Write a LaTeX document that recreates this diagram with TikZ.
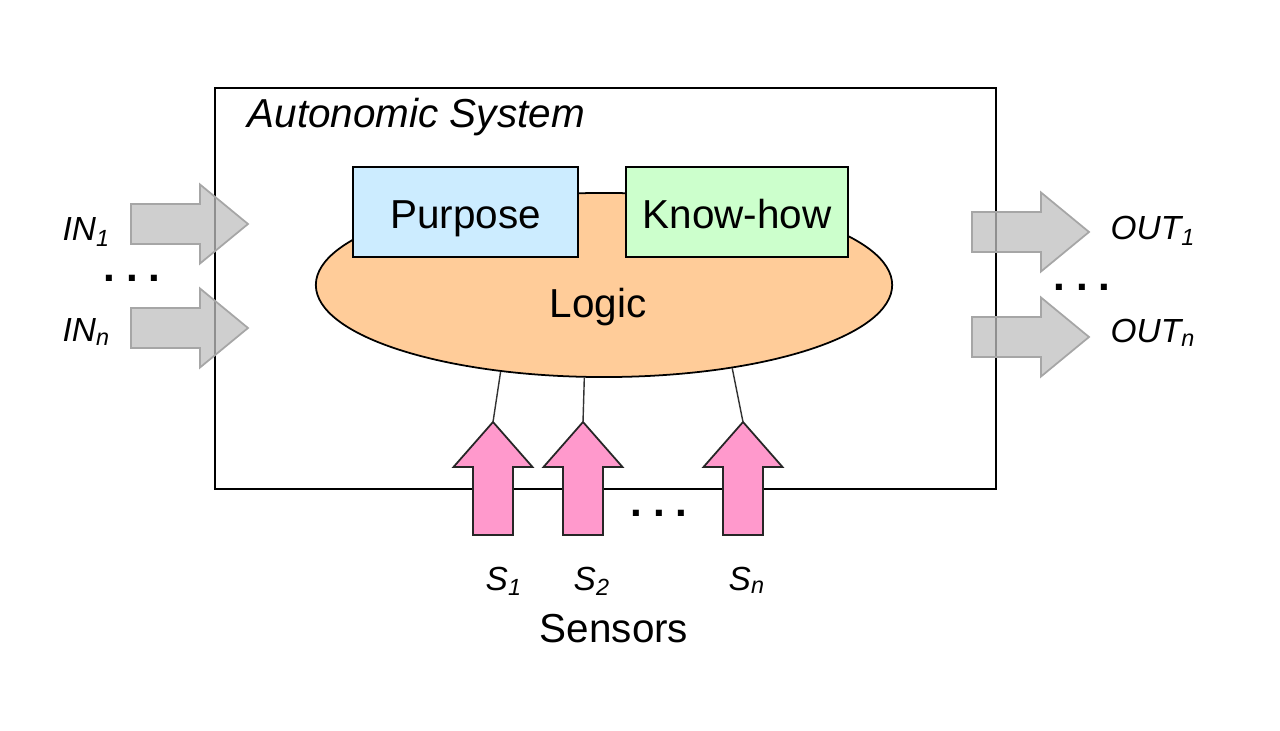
\documentclass[tikz,border=0pt]{standalone}
\usepackage{fontspec}
\setmainfont{Liberation Sans}
\usetikzlibrary{shapes.geometric}

\definecolor{purposeblue}{HTML}{CCECFF}
\definecolor{knowgreen}{HTML}{CCFFCC}
\definecolor{logicorange}{HTML}{FFCC99}
\definecolor{sensorpink}{HTML}{FF99CC}
\definecolor{flowgray}{HTML}{BFBFBF}

\begin{document}
\begin{tikzpicture}[x=0.01cm, y=-0.01cm, line join=miter,
  txt/.style={font=\fontsize{11.5}{14}\selectfont, inner sep=0pt},
  lbl/.style={font=\fontsize{9.5}{11}\selectfont\itshape, inner sep=0pt, anchor=base west},
  box/.style={txt, draw, line width=0.6pt, minimum height=0.9cm, text height=9.6pt, text depth=0pt},
  flow/.style={fill=flowgray, fill opacity=0.75, draw=black!35, line width=0.5pt},
  sensor/.style={fill=sensorpink, draw=black!85, line width=0.5pt},
  dots/.style={font=\fontsize{12}{14}\selectfont\bfseries, inner sep=0pt}]
  \useasboundingbox (0,0) rectangle (1280,731);
  % the system
  \draw[line width=0.6pt] (215,88) rectangle (996,489);
  \node[txt, font=\fontsize{11.5}{14}\selectfont\itshape, anchor=base west] (title) at (247,128) {Autonomic System};
  \node[ellipse, draw, fill=logicorange, line width=0.5pt, minimum width=5.76cm, minimum height=1.84cm] (logic) at (604,285) {};
  \node[txt] (logiclabel) at (598,307) {Logic};
  \node[box, fill=purposeblue, minimum width=2.25cm] (purpose) at (465.5,212) {Purpose};
  \node[box, fill=knowgreen, minimum width=2.22cm] (knowhow) at (737,212) {Know-how};
  % inputs and outputs
  \foreach \x/\y in {131/224, 131/328, 972/232, 972/337}
    \draw[flow] (\x,\y-20) -- ++(69,0) -- ++(0,-19.5) -- ++(48,39.5) -- ++(-48,39.5)
      -- ++(0,-19.5) -- ++(-69,0) -- cycle;
  \node[lbl] (in1) at (62,241) {IN\textsubscript{1}};
  \node[lbl] (inn) at (62,342) {IN\textsubscript{n}};
  \node[lbl] (out1) at (1110,240) {OUT\textsubscript{1}};
  \node[lbl] (outn) at (1110,343) {OUT\textsubscript{n}};
  \node[dots] (indots) at (132,278) {.\hspace{3pt}.\hspace{3pt}.};
  \node[dots] (outdots) at (1082,287) {.\hspace{3pt}.\hspace{3pt}.};
  % sensors
  \foreach \x/\nm in {493/s1, 583/s2, 743/sn} {
    \draw[sensor] (\x-20,535) -- ++(0,-68) -- ++(-19.5,0) -- ++(39.5,-45) -- ++(39.5,45)
      -- ++(-19.5,0) -- ++(0,68) -- cycle;
    \coordinate (\nm) at (\x,422);
  }
  \draw[black!80, line width=0.4pt] (s1) -- (logic.220);
  \draw[black!80, line width=0.4pt] (s2) -- (logic.258);
  \draw[black!80, line width=0.4pt] (sn) -- (logic.327);
  \node[dots] (sensordots) at (659,513) {.\hspace{3pt}.\hspace{3pt}.};
  \node[lbl] (s1label) at (485,590) {S\textsubscript{1}};
  \node[lbl] (s2label) at (573,590) {S\textsubscript{2}};
  \node[lbl] (snlabel) at (728,590) {S\textsubscript{n}};
  \node[txt, anchor=base] (sensors) at (614,642) {Sensors};
\end{tikzpicture}
\end{document}
